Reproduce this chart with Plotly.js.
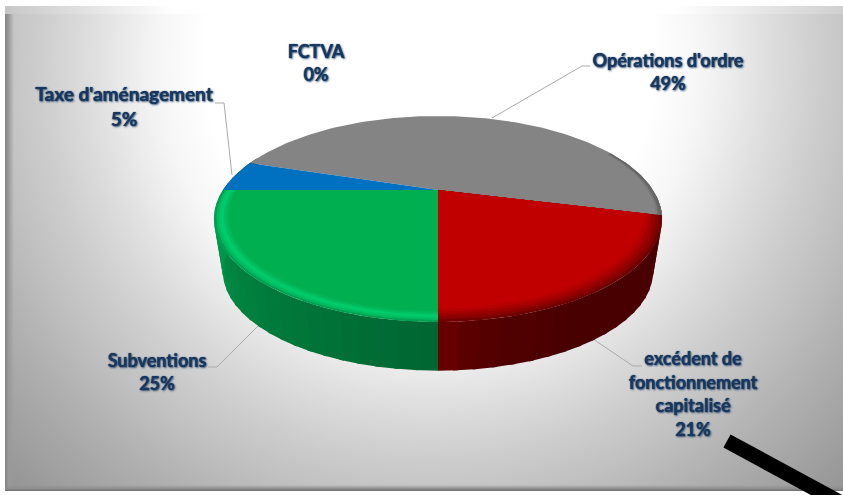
<!DOCTYPE html>
<html><head><meta charset="utf-8">
<script src="https://cdn.plot.ly/plotly-3.0.1.min.js"></script>
<style>
html,body{margin:0;padding:0;background:#fff;width:843px;height:495px;overflow:hidden}
#frame{position:absolute;left:5px;top:6px;width:838px;height:485px;
 background:radial-gradient(ellipse 490px 500px at 425px 54px,#fff 0,#fff 46%,#f5f5f5 56%,#ebebeb 62%,#dddddd 70%,#cdcdcd 80%,#bfbfbf 90%,#b0b0b0 100%,#969696 120%);}
#bevL{position:absolute;left:0;top:0;width:9px;height:100%;background:linear-gradient(90deg,#808080,#9a9a9a 40%,rgba(170,170,170,0));}
#bevT{position:absolute;left:0;top:0;width:100%;height:8px;background:linear-gradient(90deg,#c8c8c8,#fff 20%,#fff 80%,#d0d0d0);opacity:.95}
#bevB{position:absolute;left:0;bottom:0;width:100%;height:6px;background:linear-gradient(0deg,#6e6e6e,#8e8e8e 40%,rgba(150,150,150,0));}
#chart{position:absolute;left:0;top:0;width:843px;height:495px}
</style></head><body>
<div id="frame"><div id="bevL"></div><div id="bevT"></div><div id="bevB"></div></div>
<div id="chart"></div>
<script>
// ---- data ----
const categories = ["Opérations d'ordre", "excédent de<br>fonctionnement<br>capitalisé", "Subventions", "Taxe d'aménagement", "FCTVA"];
const percentValues = [49, 21, 25, 5, 0];
const sliceColors = ["#848484", "#C00000", "#00B050", "#0070C0", "#FFC000"];

// ---- layout of the perspective pie ----
const firstAngle = 288, CX = 438, CY = 190, RX = 215, RY = 94.8, PERSP = 0.2816;
const DEPTH = 54, BOTTOM_SCALE = 0.96;
const labelAnchors = [[668,74],[693,396],[157,374],[124,109],[316,65]];
const labelSizes = [18,18,18,19,18];
const leaderPaths = [
  [[590,66],[582,66],[492,118]],
  [[642,366],[633,366],[593,339]],
  [[208,367],[217,367],[259,325]],
  [[215,103],[224,103],[232,175]]
];
const bandTables = {
  1: [[1,'#700000'],[.985,'#860000'],[.97,'#980000'],[.955,'#a80000'],[.94,'#b60000']],
  2: [[1,'#00a052'],[.99,'#00b85e'],[.98,'#00c668'],[.97,'#00cc6c'],[.96,'#00c062'],[.95,'#00b658']]
};
const FLAT_R = {1:.925, 2:.94};

function proj(t, r, bottom){
  const a = t*Math.PI/180, x = r*Math.sin(a), y = -r*Math.cos(a), w = 1 - PERSP*y;
  const s = bottom ? BOTTOM_SCALE : 1, d = bottom ? DEPTH : 0;
  return [CX + s*RX*x/w, CY + d + s*RY*y/w];
}
function arc(t0,t1,r,bottom){
  const n = Math.max(2, Math.ceil(Math.abs(t1-t0)/1.5)), out=[];
  for(let i=0;i<=n;i++) out.push(proj(t0+(t1-t0)*i/n,r,bottom));
  return out;
}
function poly(pts,color,lw){
  const closed = pts.concat([pts[0]]);
  return {type:'scatter',mode:'lines',x:closed.map(p=>p[0]),y:closed.map(p=>p[1]),fill:'toself',
    fillcolor:color,line:{color:color,width:lw||0},hoverinfo:'skip',showlegend:false};
}
function sector(t0,t1,r,color){ return poly([[CX,CY]].concat(arc(t0,t1,r,false)),color,0); }
function mix(stops,t){
  for(let i=0;i<stops.length-1;i++){
    if(t<=stops[i+1][0]){
      const f=Math.max(0,(t-stops[i][0])/(stops[i+1][0]-stops[i][0]));
      const c=[0,1,2].map(k=>Math.round(stops[i][1][k]+(stops[i+1][1][k]-stops[i][1][k])*f));
      return `rgb(${c[0]},${c[1]},${c[2]})`;
    }
  }
  const l=stops[stops.length-1][1]; return `rgb(${l[0]},${l[1]},${l[2]})`;
}
const sideStops = {
  0: [[0,[70,70,70]],[360,[70,70,70]]],
  1: [[100,[72,0,0]],[150,[72,0,0]],[172,[85,0,0]],[180,[108,0,0]]],
  2: [[180,[0,102,50]],[200,[0,112,55]],[230,[0,130,62]],[255,[0,150,74]],[290,[0,152,76]]],
  3: [[0,[0,70,120]],[360,[0,70,120]]]
};

const traces = [];
leaderPaths.forEach(p=>traces.push({type:'scatter',mode:'lines',x:p.map(q=>q[0]),y:p.map(q=>q[1]),
  line:{color:'#ababab',width:1},hoverinfo:'skip',showlegend:false}));

const total = percentValues.reduce((a,b)=>a+b,0);
const spans = []; let cum = firstAngle;
percentValues.forEach((v,i)=>{ const sw=v/total*360; spans.push([cum,cum+sw,i]); cum+=sw; });

// side wall: strips painted back to front, each overlapping the next so no seams show
spans.forEach(([t0,t1,i])=>{
  if(t1===t0) return;
  for(const shift of [-360,0,360]){
    const a=Math.max(t0+shift,96), b=Math.min(t1+shift,292);
    if(b<=a) continue;
    const n=Math.ceil((b-a)/4);
    for(let k=0;k<n;k++){
      const u=a+(b-a)*k/n, v=a+(b-a)*(k+1)/n, ov=Math.min(b,v+1);
      const pts=arc(u,ov,1,false).concat(arc(ov,u,1,true));
      traces.push(poly(pts,mix(sideStops[i],(u+v)/2),0));
    }
  }
});
// top surface with rim bands
spans.forEach(([t0,t1,i])=>{
  if(t1===t0) return;
  const col=sliceColors[i];
  if(bandTables[i]){
    bandTables[i].forEach(([r,c])=>traces.push(sector(t0,t1,r,c)));
    traces.push(sector(t0,t1,FLAT_R[i],col));
  } else {
    traces.push(sector(t0,t1,1,col));
    if(i===0){
      const end=t1, a0=end-40;
      [[.975,'#7a7a7a'],[.985,'#666666']].forEach(([r,c])=>{
        traces.push(poly(arc(a0,end,1,false).concat(arc(end,a0,r,false)),c,0));
      });
    }
  }
});

traces.push({type:'scatter',mode:'text',
  x:labelAnchors.map(p=>p[0]),y:labelAnchors.map(p=>p[1]),
  text:categories.map((c,i)=>c+'<br>'+percentValues[i]+'%'),
  textposition:'middle center',
  textfont:{family:'Lato, "Open Sans", sans-serif',size:labelSizes,weight:700,color:'#17375E',
    shadow:'0 0 1px #17375E, 1px 1px 2px rgba(23,55,94,.8)'},
  hoverinfo:'skip',showlegend:false,cliponaxis:false});

const layout = {
  width:843,height:495,margin:{l:0,r:0,t:0,b:0},
  paper_bgcolor:'rgba(0,0,0,0)',plot_bgcolor:'rgba(0,0,0,0)',showlegend:false,
  xaxis:{range:[0,843],visible:false,fixedrange:true},
  yaxis:{range:[495,0],visible:false,fixedrange:true},
  shapes:[{type:'line',xref:'x',yref:'y',x0:727,y0:441,x1:845,y1:505,line:{color:'#000',width:15},layer:'above'}]
};
Plotly.newPlot('chart',traces,layout,{displayModeBar:false,staticPlot:true});
</script></body></html>
